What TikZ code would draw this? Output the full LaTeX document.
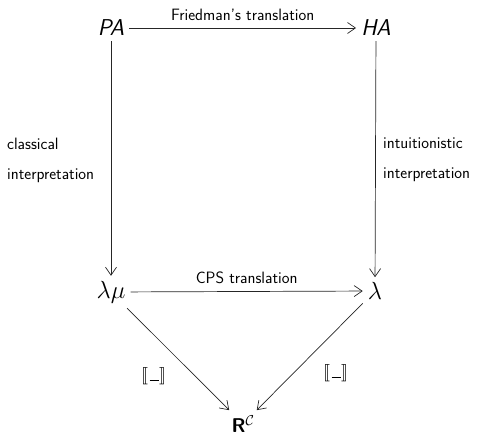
\documentclass[tikz,border=0pt]{standalone}
\usepackage{stmaryrd}
\usetikzlibrary{arrows.meta}
\renewcommand{\familydefault}{\sfdefault}
\tikzset{
  obj/.style={font=\fontsize{23}{26}\selectfont, inner sep=5pt},
  lbl/.style={font=\fontsize{16.5}{30}\selectfont, inner sep=0pt},
  arr/.style={-{Straight Barb[length=8bp,width=11bp,line width=0.7bp]}, line width=0.7bp, draw=black!85}
}
\newcommand{\semb}{$\llbracket\mkern1mu\rule[-1bp]{9bp}{0.9bp}\mkern1mu\rrbracket$}
\begin{document}
\begin{tikzpicture}[x=1bp,y=-1bp]
\useasboundingbox (0,0) rectangle (482,438);
\node[obj] (PA) at (111,28) {\textit{PA}};
\node[obj] (HA) at (376,28) {\textit{HA}};
\node[obj] (lm) at (111,292) {$\lambda\mu$};
\node[obj] (l) at (375,291) {$\lambda$};
\node[obj, font=\fontsize{20}{24}\selectfont] (R) at (243,424) {\textbf{R}$^{\mathcal{C}}$};
\draw[arr] (PA) -- node[lbl, above=7bp] (ft) {Friedman's translation} (HA);
\draw[arr] (PA) -- (lm);
\draw[arr] (HA) -- (l);
\draw[arr] (lm) -- node[lbl, above=7bp] (cps) {CPS translation} (l);
\draw[arr] (lm) -- (R);
\draw[arr] (l) -- (R);
\node[lbl, anchor=west, align=left] (ci) at (7,160) {classical\\interpretation};
\node[lbl, anchor=west, align=left] (ii) at (383,160) {intuitionistic\\interpretation};
\node[lbl] (b1) at (154,376) {\semb};
\node[lbl] (b2) at (336,373) {\semb};
\end{tikzpicture}
\end{document}
